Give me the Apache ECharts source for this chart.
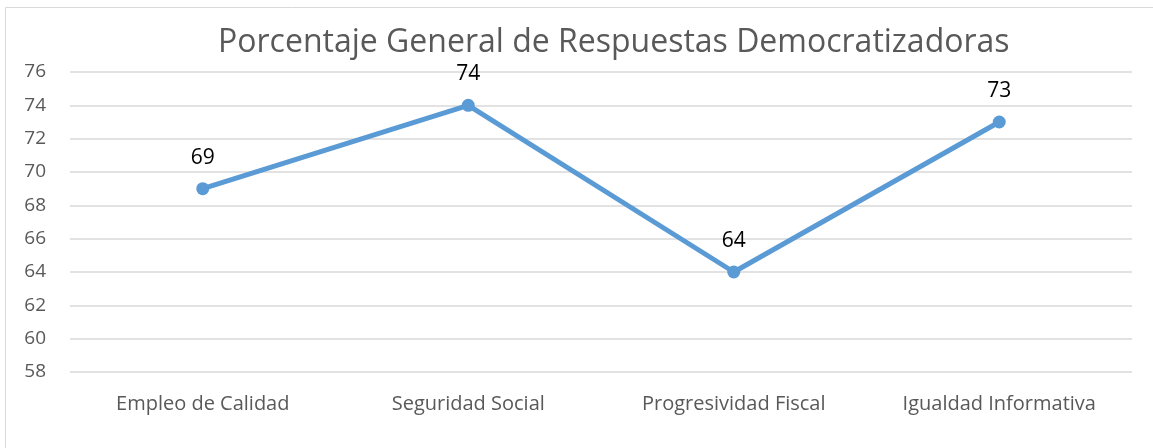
<!DOCTYPE html>
<html><head><meta charset="utf-8">
<script src="https://cdn.jsdelivr.net/npm/echarts@6/dist/echarts.min.js"></script>
<style>html,body{margin:0;padding:0;background:#fff}#c{width:1153px;height:448px}</style>
</head><body><div id="c"></div>
<script>
const categories = ['Empleo de Calidad', 'Seguridad Social', 'Progresividad Fiscal', 'Igualdad Informativa'];
const values = [69, 74, 64, 73];
const titleText = 'Porcentaje General de Respuestas Democratizadoras';
const chart = echarts.init(document.getElementById('c'));
const font = '"Open Sans", "Noto Sans", sans-serif';
chart.setOption({
  animation: false,
  backgroundColor: '#fff',
  graphic: [{type: 'rect', shape: {x: 5.5, y: 7.5, width: 1200, height: 500}, style: {fill: 'none', stroke: '#d9d9d9', lineWidth: 1}}],
  title: {text: titleText, left: 213, top: 22, textStyle: {fontFamily: font, fontSize: 32, fontWeight: 'normal', color: '#595959'}},
  grid: {left: 70, right: 21, top: 72, bottom: 76},
  xAxis: {type: 'category', data: categories, boundaryGap: true,
    axisLine: {show: false}, axisTick: {show: false},
    axisLabel: {fontFamily: font, fontSize: 20, color: '#595959', margin: 22}},
  yAxis: {type: 'value', min: 58, max: 76, interval: 2,
    axisLine: {show: false}, axisTick: {show: false},
    axisLabel: {fontFamily: font, fontSize: 19, color: '#595959', margin: 24},
    splitLine: {lineStyle: {color: '#d9d9d9', width: 1.5}}},
  series: [{type: 'line', data: values, symbol: 'circle', symbolSize: 13,
    lineStyle: {color: '#5b9bd5', width: 5}, itemStyle: {color: '#5b9bd5'},
    label: {show: true, position: 'top', distance: 14, fontFamily: font, fontSize: 21, color: '#000'}}]
});
</script></body></html>
